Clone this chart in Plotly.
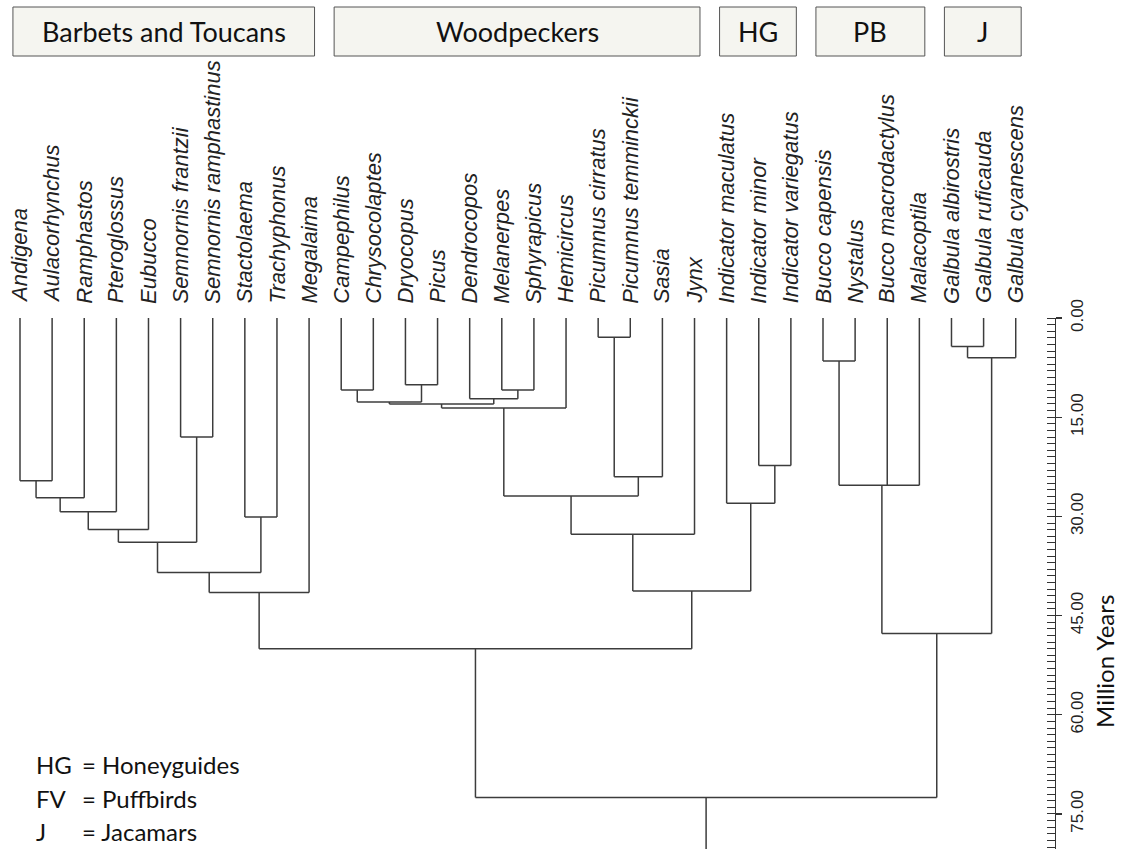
import plotly.graph_objects as go

# ---------------- data ----------------
leaves = ["Andigena", "Aulacorhynchus", "Ramphastos", "Pteroglossus", "Eubucco",
          "Semnornis frantzii", "Semnornis ramphastinus", "Stactolaema", "Trachyphonus", "Megalaima",
          "Campephilus", "Chrysocolaptes", "Dryocopus", "Picus", "Dendrocopos", "Melanerpes",
          "Sphyrapicus", "Hemicircus", "Picumnus cirratus", "Picumnus temminckii", "Sasia", "Jynx",
          "Indicator maculatus", "Indicator minor", "Indicator variegatus",
          "Bucco capensis", "Nystalus", "Bucco macrodactylus", "Malacoptila",
          "Galbula albirostris", "Galbula ruficauda", "Galbula cyanescens"]

# internal nodes (in bottom-up order): name, children, age (Million Years)
node_names = ["A", "B", "C", "D", "E", "F", "G", "H", "I",
              "W1", "W2", "W3", "W4", "W5", "W6", "W7", "W8", "W9", "W10", "W11",
              "H1", "H2", "WH", "BW", "P1", "P2", "J1", "J2", "PJ", "ROOT"]
node_children = [
    ["Andigena", "Aulacorhynchus"],
    ["A", "Ramphastos"],
    ["B", "Pteroglossus"],
    ["C", "Eubucco"],
    ["Semnornis frantzii", "Semnornis ramphastinus"],
    ["D", "E"],
    ["Stactolaema", "Trachyphonus"],
    ["F", "G"],
    ["H", "Megalaima"],
    ["Campephilus", "Chrysocolaptes"],
    ["Dryocopus", "Picus"],
    ["W1", "W2"],
    ["Melanerpes", "Sphyrapicus"],
    ["Dendrocopos", "W4"],
    ["W3", "W5"],
    ["W6", "Hemicircus"],
    ["Picumnus cirratus", "Picumnus temminckii"],
    ["W8", "Sasia"],
    ["W7", "W9"],
    ["W10", "Jynx"],
    ["Indicator minor", "Indicator variegatus"],
    ["Indicator maculatus", "H1"],
    ["W11", "H2"],
    ["I", "WH"],
    ["Bucco capensis", "Nystalus"],
    ["P1", "Bucco macrodactylus", "Malacoptila"],
    ["Galbula albirostris", "Galbula ruficauda"],
    ["J1", "Galbula cyanescens"],
    ["P2", "J2"],
    ["BW", "PJ"],
]
node_ages = [24.6, 27.2, 29.3, 32.0, 18.0, 33.9, 30.1, 38.5, 41.5,
             10.9, 10.1, 12.7, 10.9, 12.2, 13.0, 13.6, 2.9, 24.0, 26.9, 32.7,
             22.3, 28.0, 41.3, 50.0, 6.5, 25.3, 4.3, 6.0, 47.7, 72.5]

group_names = ["Barbets and Toucans", "Woodpeckers", "HG", "PB", "J"]
group_first = [0, 10, 22, 25, 29]
group_last = [9, 21, 24, 28, 31]

legend_keys = ["HG", "FV", "J"]
legend_values = ["= Honeyguides", "= Puffbirds", "= Jacamars"]

tick_values = [0, 15, 30, 45, 60, 75]
axis_title = "Million Years"

# ---------------- layout constants ----------------
W, H = 1122, 849
LEAF_PX = 32.12      # px per leaf
LEAF0_PX = 20.0      # x of first leaf
Y0_PX = 318.0        # pixel of age 0
PX_PER_MY = 6.613    # px per million years

x_min = -LEAF0_PX / LEAF_PX
x_max = x_min + W / LEAF_PX
y_top = -Y0_PX / PX_PER_MY
y_bot = (H - Y0_PX) / PX_PER_MY

line_color = "#3c3c3c"
calibri_like = "Lato, sans-serif"
arial_like = "Liberation Sans, Arial, sans-serif"

# ---------------- build tree geometry ----------------
xpos = {name: float(i) for i, name in enumerate(leaves)}
age = {name: 0.0 for name in leaves}
for name, ch, a in zip(node_names, node_children, node_ages):
    xpos[name] = sum(xpos[c] for c in ch) / len(ch)
    age[name] = a

xs, ys = [], []
for name, ch in zip(node_names, node_children):
    cx = [xpos[c] for c in ch]
    xs += [min(cx), max(cx), None]
    ys += [age[name], age[name], None]
    for c in ch:
        xs += [xpos[c], xpos[c], None]
        ys += [age[c], age[name], None]
root = node_names[-1]
xs += [xpos[root], xpos[root], None]
ys += [age[root], y_bot + 5, None]

fig = go.Figure()
fig.add_trace(go.Scatter(x=xs, y=ys, mode="lines",
                         line=dict(color=line_color, width=1.5),
                         hoverinfo="skip", showlegend=False))
# dummy trace to attach the time scale axis
fig.add_trace(go.Scatter(x=[None], y=[None], yaxis="y2", xaxis="x",
                         showlegend=False, hoverinfo="skip"))

annotations = []
# species labels
for i, name in enumerate(leaves):
    annotations.append(dict(
        x=i, y=-1.9, xref="x", yref="y", text="<i>" + name + "</i>",
        showarrow=False, textangle=-90, xanchor="center", yanchor="bottom",
        font=dict(family=arial_like, size=22, color="#222222")))

# header boxes
shapes = []
box_y0 = 1 - 56 / H
box_y1 = 1 - 7 / H
for gname, f, l in zip(group_names, group_first, group_last):
    x0 = f - 0.22
    x1 = l + 0.17
    shapes.append(dict(type="rect", xref="x", yref="paper", x0=x0, x1=x1,
                       y0=box_y0, y1=box_y1, fillcolor="#f5f5f0",
                       line=dict(color="#555555", width=1)))
    annotations.append(dict(x=(x0 + x1) / 2, y=(box_y0 + box_y1) / 2, xref="x", yref="paper",
                            text=gname, showarrow=False, xanchor="center", yanchor="middle",
                            font=dict(family=calibri_like, size=27, color="#111111")))

# legend text bottom-left
legend_y_px = [764, 798, 831]
for k, v, ypx in zip(legend_keys, legend_values, legend_y_px):
    annotations.append(dict(x=34 / W, y=1 - ypx / H, xref="paper", yref="paper", text=k,
                            showarrow=False, xanchor="left", yanchor="middle",
                            font=dict(family=calibri_like, size=24, color="#111111")))
    annotations.append(dict(x=80 / W, y=1 - ypx / H, xref="paper", yref="paper", text=v,
                            showarrow=False, xanchor="left", yanchor="middle",
                            font=dict(family=calibri_like, size=24, color="#111111")))

# axis title
annotations.append(dict(x=1105 / W, y=52, xref="paper", yref="y", text=axis_title,
                        showarrow=False, textangle=-90, xanchor="center", yanchor="middle",
                        font=dict(family=calibri_like, size=24, color="#111111")))

fig.update_layout(
    width=W, height=H,
    margin=dict(l=0, r=0, t=0, b=0),
    paper_bgcolor="white", plot_bgcolor="rgba(0,0,0,0)",
    showlegend=False,
    xaxis=dict(range=[x_min, x_max], visible=False, domain=[0, 1], automargin=False),
    yaxis=dict(range=[y_bot, y_top], visible=False, domain=[0, 1], automargin=False),
    yaxis2=dict(
        domain=[0, 1 - Y0_PX / H], range=[y_bot, 0], anchor="free", position=1055 / W,
        side="right", showline=True, linecolor="#333333", linewidth=1.3,
        ticks="outside", ticklen=6, tickwidth=1.2, tickcolor="#333333",
        tickmode="array", tickvals=tick_values, tickformat=".2f", tickangle=-90,
        tickfont=dict(family=arial_like, size=17, color="#222222"),
        minor=dict(ticks="inside", dtick=1, tick0=0, ticklen=8, tickwidth=1, tickcolor="#333333"),
        showgrid=False, zeroline=False, automargin=False,
    ),
    shapes=shapes,
    annotations=annotations,
)

fig.write_html(
    "out.html",
    config={"displayModeBar": False, "staticPlot": True},
    post_script="document.body.style.margin='0';document.body.style.overflow='hidden';",
)
